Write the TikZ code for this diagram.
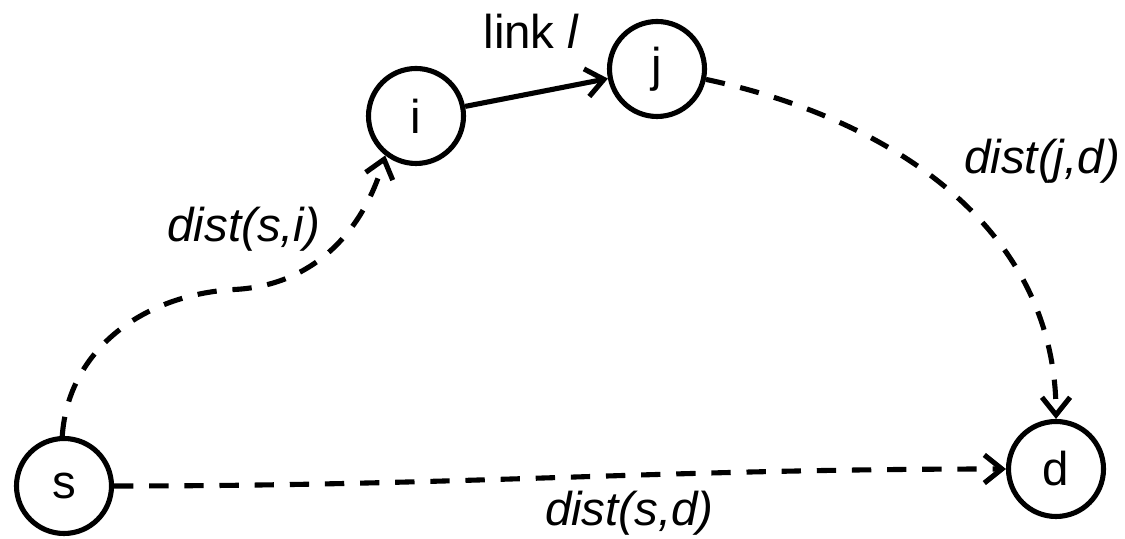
\documentclass[tikz,border=0pt]{standalone}
\usepackage{fontspec}
\setmainfont{Liberation Sans}
\usepackage{tikz}
\usetikzlibrary{arrows.meta, positioning}

\begin{document}
\begin{tikzpicture}[node distance=2cm, auto]
\tikzstyle{vertex}=[circle, draw, line width=2.9pt, minimum size=1.9cm,
  inner sep=0pt, font=\fontsize{27}{32}\selectfont]
\tikzstyle{link}=[line width=2.9pt, -{Straight Barb[length=10pt, width=16pt]}]
\tikzstyle{path}=[link, dash pattern=on 11pt off 9pt]
\tikzstyle{dist}=[font=\fontsize{27}{32}\selectfont\itshape]

\useasboundingbox (0,0) rectangle (22.5,10.78);

\node (s) [vertex] at (1.28,1.06) {s};
\node (i) [vertex, right of=s, xshift=5.04cm, yshift=7.4cm] {i};
\node (j) [vertex, right of=i, xshift=2.82cm, yshift=0.94cm] {j};
\node (d) [vertex, right of=s, xshift=17.84cm, yshift=0.34cm] {d};

\draw [link] (i) -- (j)
  node [midway, above=0.72cm, xshift=-0.1cm, font=\fontsize{27}{32}\selectfont] {link \textit{l}};
\draw [path] (s.92) to[out=86, in=183] ++(3.45,2.93)
  to[out=3, in=254] node [dist, pos=0.55, left, xshift=-0.2cm, yshift=0.25cm] {dist(s,i)} (i.232);
\draw [path] (j) to[out=-12, in=90]
  node [dist, pos=0.42, right, xshift=0.75cm, yshift=0.12cm] {dist(j,d)} (d);
\draw [path] (s) to[out=0, in=180]
  node [dist, pos=0.585, below, yshift=-0.15cm] {dist(s,d)} (d);
\end{tikzpicture}
\end{document}
